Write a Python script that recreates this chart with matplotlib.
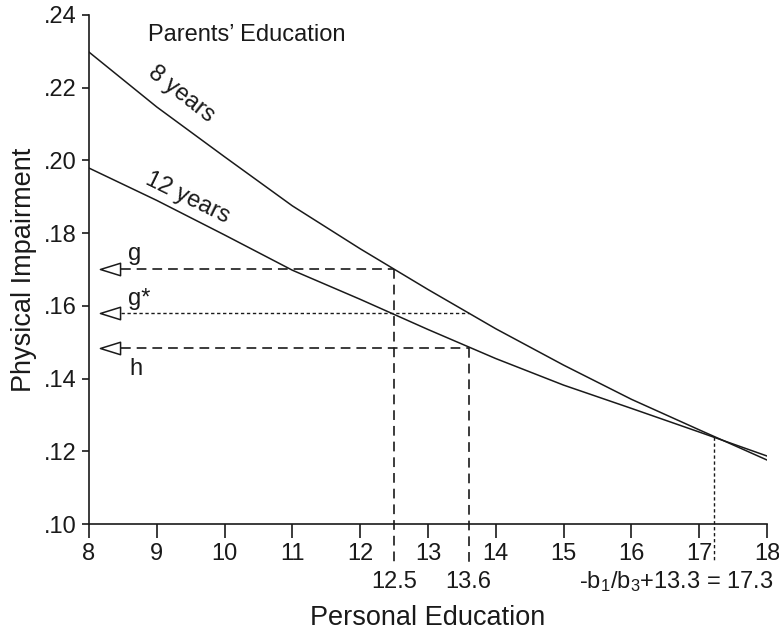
import matplotlib
matplotlib.use("Agg")
import matplotlib.pyplot as plt
from matplotlib.path import Path

plt.rcParams['font.family'] = ['Liberation Sans', 'DejaVu Sans']
plt.rcParams['mathtext.fontset'] = 'custom'
plt.rcParams['mathtext.rm'] = 'Liberation Sans'
plt.rcParams['mathtext.it'] = 'Liberation Sans'
plt.rcParams['mathtext.default'] = 'regular'
plt.rcParams['lines.scale_dashes'] = False

# personal education (years) and predicted impairment per parents' education
educ = [8, 9, 10, 11, 12, 13, 14, 15, 16, 17, 18]
par8 = [.2298, .2147, .2010, .1875, .1757, .1645, .1537, .1437, .1343, .1259, .1176]
par12 = [.1979, .1890, .1795, .1698, .1618, .1535, .1455, .1382, .1318, .1253, .1187]

g_val = .1700
gstar_val = .1581
h_val = .1483
x_g = 12.5
x_h = 13.6
x_cross = 17.22
y_cross = .1240

ink = '#1a1a1a'
long_dash = (0, (7, 4.3))
short_dash = (0, (2.4, 1.9))

fig = plt.figure(figsize=(7.79, 6.35), dpi=100)
ax = fig.add_axes([0.1142, 0.1748, 0.8704, 0.8016])

ax.plot(educ, par8, color=ink, lw=1.1)
ax.plot(educ, par12, color=ink, lw=1.1)

y_low = .0896  # below the axis line, where the dashed drops end
x_start = 8.47
ax.plot([x_start, x_g], [g_val, g_val], color=ink, lw=1.2, ls=long_dash)
ax.plot([x_g, x_g], [g_val, y_low], color=ink, lw=1.2, ls=long_dash, clip_on=False)
ax.plot([x_start, x_h], [gstar_val, gstar_val], color=ink, lw=1.0, ls=short_dash)
ax.plot([x_start, x_h], [h_val, h_val], color=ink, lw=1.2, ls=long_dash)
ax.plot([x_h, x_h], [h_val, y_low], color=ink, lw=1.2, ls=long_dash, clip_on=False)
ax.plot([x_cross, x_cross], [y_cross, y_low], color=ink, lw=1.0, ls=short_dash, clip_on=False)

tri = Path([(-1, 0), (1, 0.62), (1, -0.62), (-1, 0)],
           [Path.MOVETO, Path.LINETO, Path.LINETO, Path.CLOSEPOLY])
for yv in [g_val, gstar_val, h_val]:
    ax.plot([8.31], [yv], marker=tri, ms=14.5, mfc='white', mec=ink, mew=1.1,
            clip_on=False)

ax.text(8.575, .1726, "g", fontsize=17, va='baseline', ha='left', color=ink)
ax.text(8.575, .1602, "g*", fontsize=17, va='baseline', ha='left', color=ink)
ax.text(8.6, .1410, "h", fontsize=17, va='baseline', ha='left', color=ink)

ax.text(8.87, .2345, "Parents\u2019 Education", fontsize=17, va='center', ha='left', color=ink)
ax.text(9.36, .2183, "8 years", fontsize=17, rotation=-38, rotation_mode='anchor',
        ha='center', va='center', color=ink)
ax.text(9.46, .1897, "12 years", fontsize=17, rotation=-26, rotation_mode='anchor',
        ha='center', va='center', color=ink)

tr = ax.get_xaxis_transform()
ax.text(x_g, -0.126, "12.5", transform=tr, fontsize=17, ha='center', va='baseline', color=ink)
ax.text(x_h, -0.126, "13.6", transform=tr, fontsize=17, ha='center', va='baseline', color=ink)
ax.text(18.09, -0.126, r"-b$_1$/b$_3$+13.3 = 17.3", transform=tr, fontsize=17,
        ha='right', va='baseline', color=ink)

ax.set_xlim(8, 18)
ax.set_ylim(.10, .24)
ax.set_xticks(educ)
ax.set_xticklabels([str(v) for v in educ])
yt = [.10, .12, .14, .16, .18, .20, .22, .24]
ax.set_yticks(yt)
ax.set_yticklabels(["." + f"{v:.2f}".split(".")[1] for v in yt])

for s in ['top', 'right']:
    ax.spines[s].set_visible(False)
for s in ['left', 'bottom']:
    ax.spines[s].set_linewidth(1.2)
    ax.spines[s].set_color(ink)
ax.tick_params(axis='x', length=10, width=1.2, pad=3.5, labelsize=17, colors=ink)
ax.tick_params(axis='y', length=5, width=1.2, pad=4, labelsize=17, colors=ink)

ax.set_xlabel("Personal Education", fontsize=19.5, color=ink, labelpad=29)
ax.set_ylabel("Physical Impairment", fontsize=19.5, color=ink, labelpad=5)

fig.savefig("out.png", dpi=100)
